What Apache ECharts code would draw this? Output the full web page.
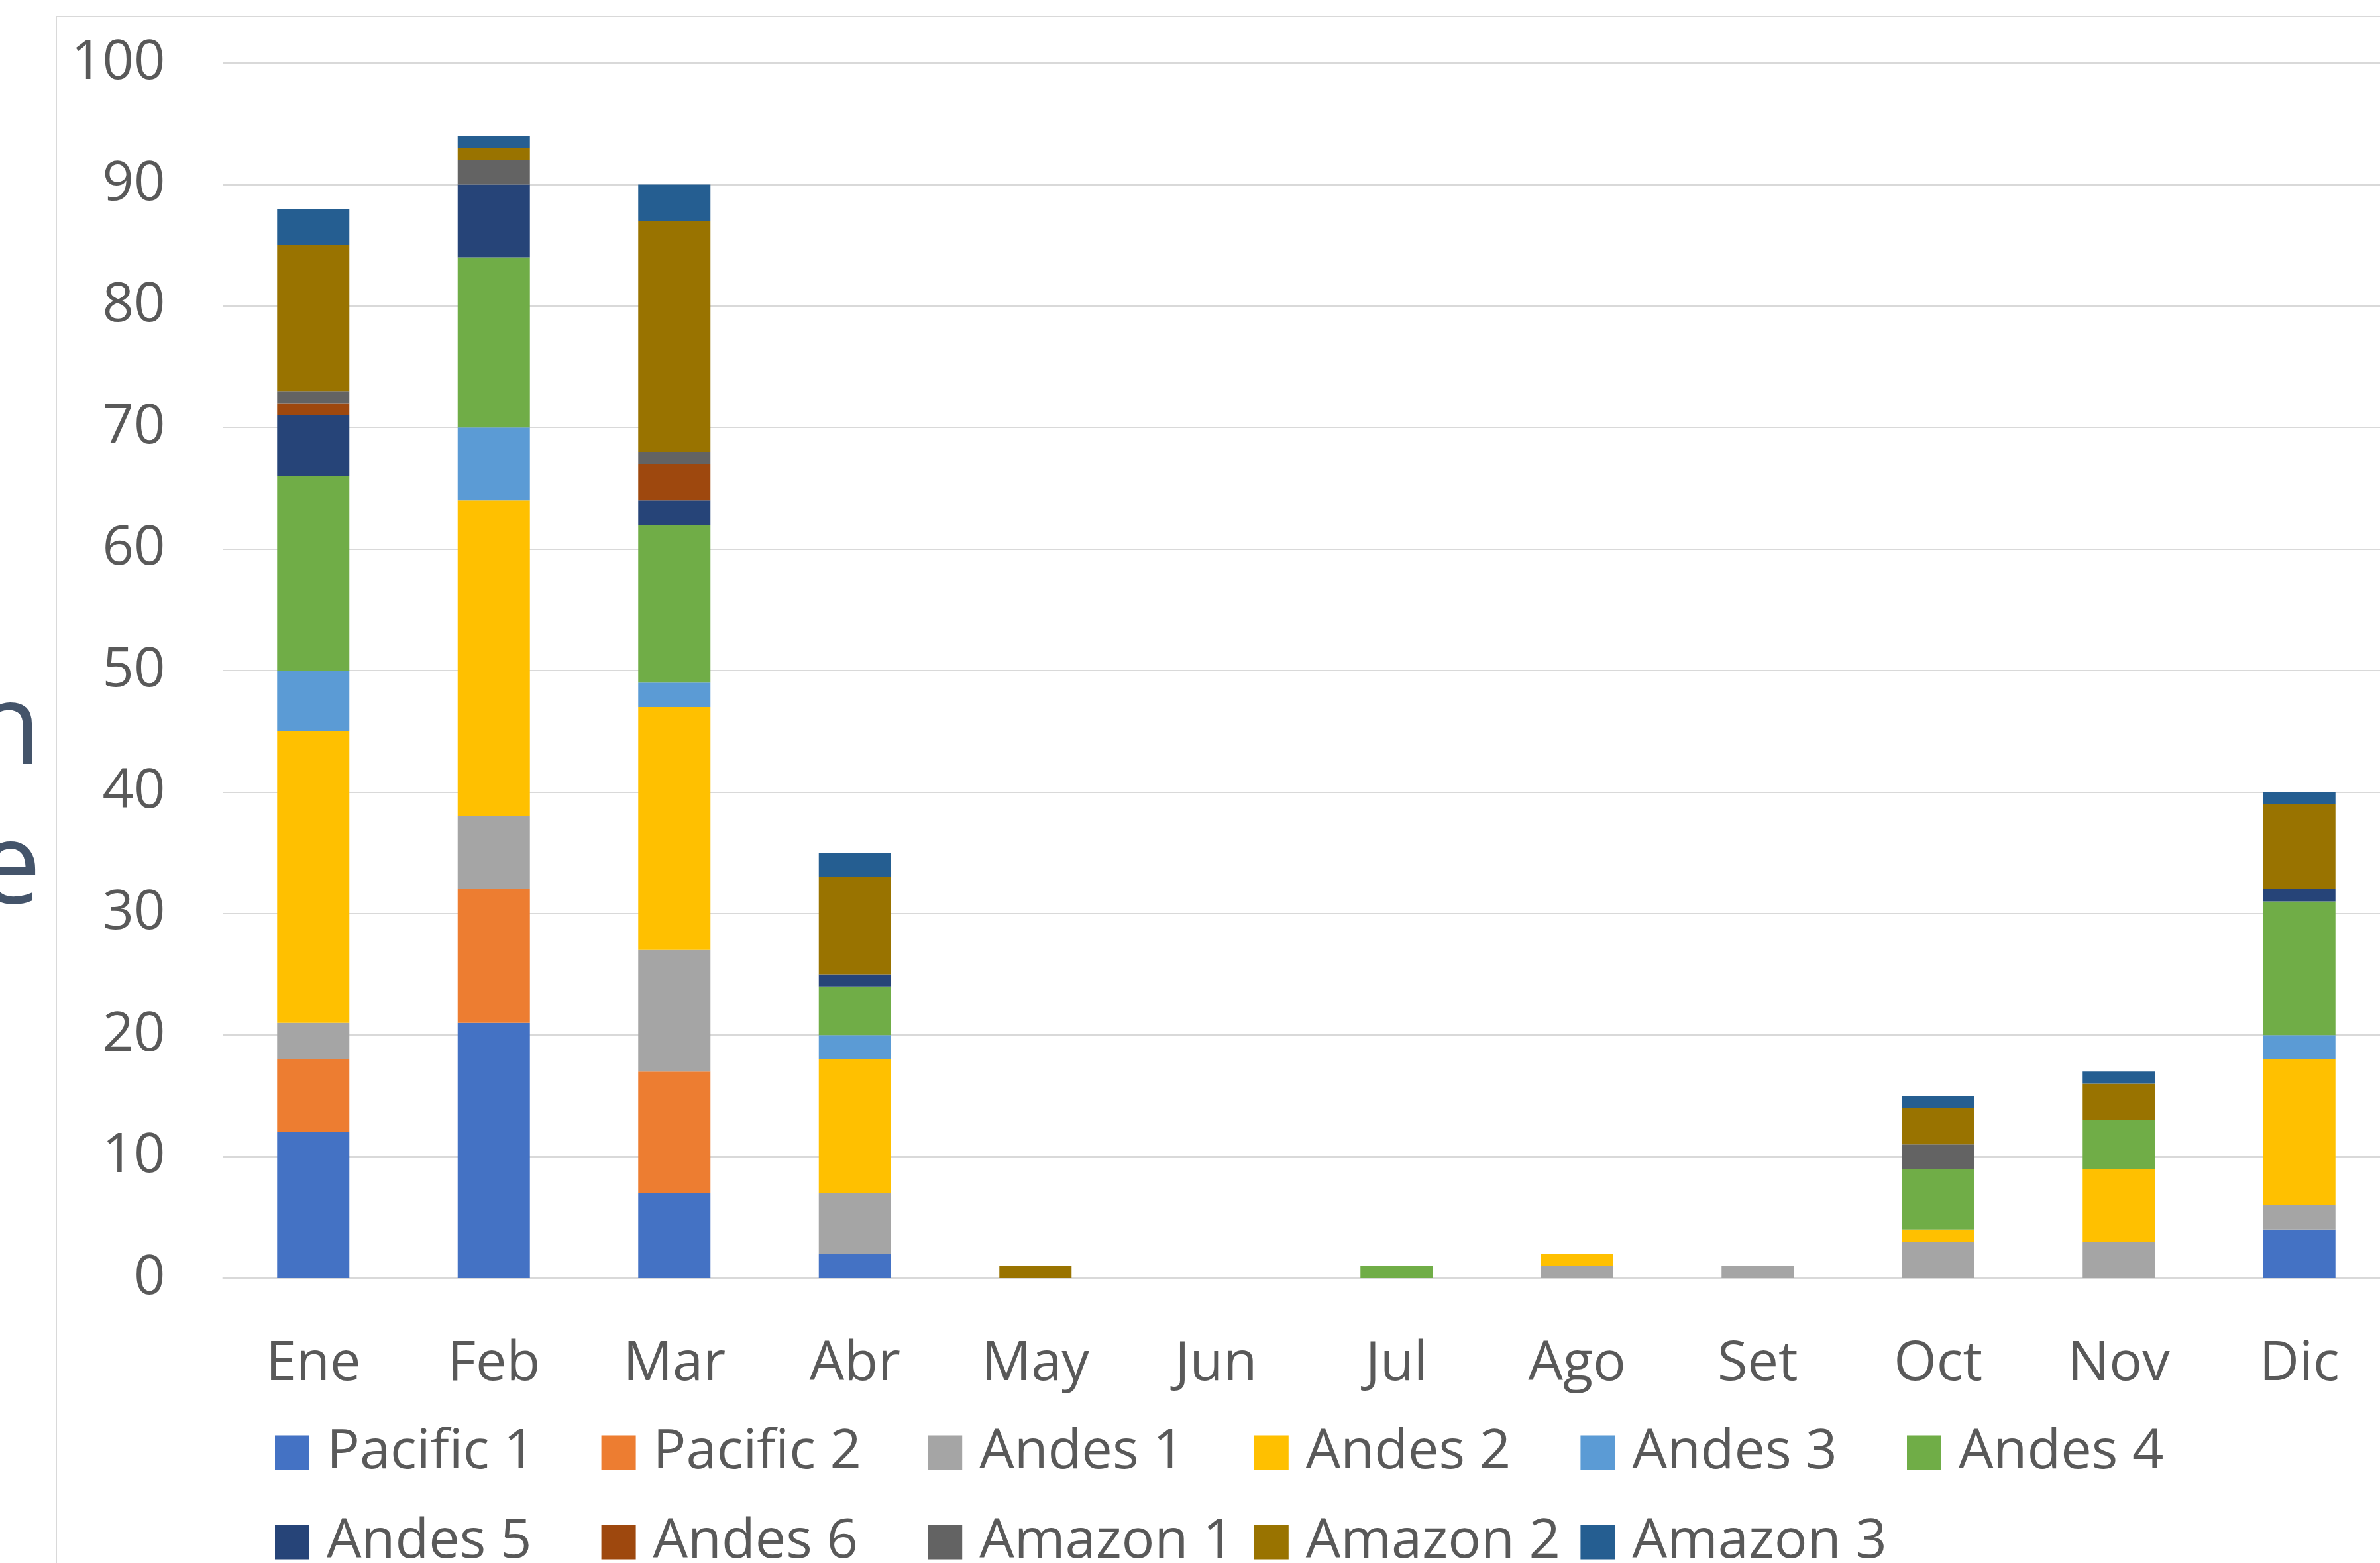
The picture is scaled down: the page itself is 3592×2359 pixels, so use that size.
<!DOCTYPE html>
<html>
<head>
<meta charset="utf-8">
<script src="https://cdn.jsdelivr.net/npm/echarts@6/dist/echarts.min.js"></script>
<style>
  html, body { margin: 0; padding: 0; background: #ffffff; }
  #chart { width: 3592px; height: 2359px; }
</style>
</head>
<body>
<div id="chart"></div>
<script>
// Months on the category axis
const months = ['Ene', 'Feb', 'Mar', 'Abr', 'May', 'Jun', 'Jul', 'Ago', 'Set', 'Oct', 'Nov', 'Dic'];

// Monthly counts per region (stacked bottom to top in this order)
const pacific1 = [12, 21, 7, 2, 0, 0, 0, 0, 0, 0, 0, 4];
const pacific2 = [6, 11, 10, 0, 0, 0, 0, 0, 0, 0, 0, 0];
const andes1   = [3, 6, 10, 5, 0, 0, 0, 1, 1, 3, 3, 2];
const andes2   = [24, 26, 20, 11, 0, 0, 0, 1, 0, 1, 6, 12];
const andes3   = [5, 6, 2, 2, 0, 0, 0, 0, 0, 0, 0, 2];
const andes4   = [16, 14, 13, 4, 0, 0, 1, 0, 0, 5, 4, 11];
const andes5   = [5, 6, 2, 1, 0, 0, 0, 0, 0, 0, 0, 1];
const andes6   = [1, 0, 3, 0, 0, 0, 0, 0, 0, 0, 0, 0];
const amazon1  = [1, 2, 1, 0, 0, 0, 0, 0, 0, 2, 0, 0];
const amazon2  = [12, 1, 19, 8, 1, 0, 0, 0, 0, 3, 3, 7];
const amazon3  = [3, 1, 3, 2, 0, 0, 0, 0, 0, 1, 1, 1];

const seriesNames = ['Pacific 1', 'Pacific 2', 'Andes 1', 'Andes 2', 'Andes 3', 'Andes 4',
                     'Andes 5', 'Andes 6', 'Amazon 1', 'Amazon 2', 'Amazon 3'];
const seriesData = [pacific1, pacific2, andes1, andes2, andes3, andes4,
                    andes5, andes6, amazon1, amazon2, amazon3];
const seriesColors = ['#4472C4', '#ED7D31', '#A5A5A5', '#FFC000', '#5B9BD5', '#70AD47',
                      '#264478', '#9E480E', '#636363', '#997300', '#255E91'];

// Y axis ticks
const yMin = 0, yMax = 100, yStep = 10;

const FONT = '"Open Sans", "Noto Sans", sans-serif';
const TEXT_GREY = '#595959';
const GRID_GREY = '#D9D9D9';

const chart = echarts.init(document.getElementById('chart'), null, { renderer: 'canvas' });

// Legend laid out as a fixed 6-column table, one legend component per entry
const LEGEND_COLS = 6;
const legends = seriesNames.map((name, i) => ({
  orient: 'horizontal',
  left: 410 + (i % LEGEND_COLS) * 492.6,
  top: i < LEGEND_COLS ? 2146 : 2281,
  itemWidth: 52,
  itemHeight: 52,
  itemGap: 0,
  icon: 'rect',
  selectedMode: false,
  data: [name],
  formatter: '{t|{name}}',
  textStyle: {
    fontFamily: FONT,
    fontSize: 83,
    color: TEXT_GREY,
    rich: {
      t: {
        fontFamily: FONT,
        fontSize: 83,
        color: TEXT_GREY,
        padding: [0, 0, 0, 21]
      }
    }
  }
}));

const option = {
  backgroundColor: '#ffffff',
  animation: false,
  color: seriesColors,
  grid: {
    left: 336.5,
    top: 95,
    width: 3270,
    height: 1834,
    containLabel: false,
    outerBoundsMode: 'none'
  },
  xAxis: {
    type: 'category',
    data: months,
    axisLine: { show: true, lineStyle: { color: GRID_GREY, width: 2 } },
    axisTick: { show: false },
    axisLabel: {
      color: TEXT_GREY,
      fontFamily: FONT,
      fontSize: 83,
      margin: 89
    }
  },
  yAxis: {
    type: 'value',
    min: yMin,
    max: yMax,
    interval: yStep,
    axisLine: { show: false },
    axisTick: { show: false },
    splitLine: { show: true, lineStyle: { color: GRID_GREY, width: 2 } },
    axisLabel: {
      color: TEXT_GREY,
      fontFamily: FONT,
      fontSize: 83,
      margin: 87,
      padding: [16, 0, 0, 0]
    }
  },
  legend: legends,
  graphic: [
    {
      // chart-area frame
      type: 'rect',
      silent: true,
      shape: { x: 85, y: 25, width: 4000, height: 4000 },
      style: { fill: 'none', stroke: GRID_GREY, lineWidth: 2 }
    },
    {
      // side title
      type: 'text',
      silent: true,
      x: 62,
      y: 1210,
      style: {
        text: 'Distribución\nmensual de friaje',
        fill: '#44546A',
        fontFamily: FONT,
        fontSize: 170,
        lineHeight: 210,
        align: 'right',
        verticalAlign: 'middle'
      }
    }
  ],
  series: seriesNames.map((name, i) => ({
    name: name,
    type: 'bar',
    stack: 'total',
    barWidth: '40%',
    data: seriesData[i],
    itemStyle: { color: seriesColors[i] },
    emphasis: { disabled: true }
  }))
};

chart.setOption(option);
</script>
</body>
</html>
